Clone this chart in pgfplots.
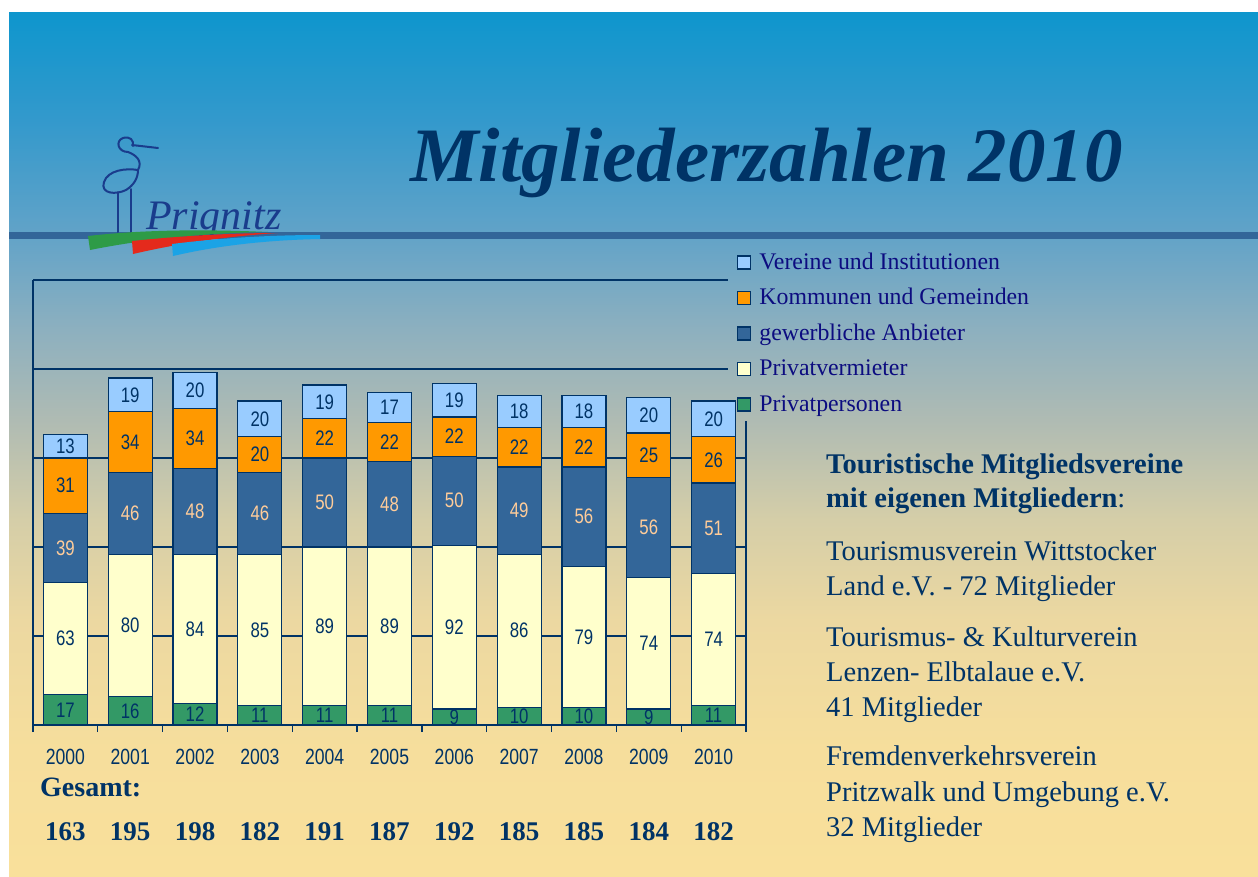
\documentclass[border=0pt]{standalone}
\usepackage{pgfplots}
\usepackage{pgfplotstable}
\pgfplotsset{compat=1.18}
\usepackage{fontspec}
\setmainfont{Liberation Serif}
\newfontfamily\narrowfont[FakeStretch=0.8]{Liberation Sans}
\definecolor{navy}{HTML}{003366}
\definecolor{legtext}{HTML}{0C0C80}
\definecolor{cgreen}{HTML}{339966}
\definecolor{cyellow}{HTML}{FFFFCC}
\definecolor{cblue}{HTML}{336699}
\definecolor{corange}{HTML}{FF9900}
\definecolor{clight}{HTML}{99CCFF}
\definecolor{peach}{HTML}{FFCC99}
\definecolor{band}{HTML}{336699}
\definecolor{storkblue}{HTML}{1A3C8C}
\definecolor{swgreen}{HTML}{2E9B47}
\definecolor{swred}{HTML}{E42A1C}
\definecolor{swblue}{HTML}{1BA3E6}
\definecolor{bga}{HTML}{F9E09B}
\definecolor{bgb}{HTML}{F6DE9C}
\definecolor{bgc}{HTML}{ECD8A1}
\definecolor{bgd}{HTML}{D5CEA8}
\definecolor{bge}{HTML}{AFBBB3}
\definecolor{bgf}{HTML}{8DB0BF}
\definecolor{bgg}{HTML}{62A3C8}
\definecolor{bgh}{HTML}{3399CC}
\definecolor{bgi}{HTML}{0E96CD}
\pgfdeclareverticalshading{bgshade}{100bp}{color(0bp)=(bga); color(25bp)=(bga); color(32.3bp)=(bgb); color(39.8bp)=(bgc); color(45.6bp)=(bgd); color(51.4bp)=(bge); color(56.6bp)=(bgf); color(62.1bp)=(bgg); color(68.75bp)=(bgh); color(75bp)=(bgi); color(100bp)=(bgi)}

\pgfplotstableread{
x pp pv ga kg vi
0 17 63 39 31 13
1 16 80 46 34 19
2 12 84 48 34 20
3 11 85 46 20 20
4 11 89 50 22 19
5 11 89 48 22 17
6 9 92 50 22 19
7 10 86 49 22 18
8 10 79 56 22 18
9 9 74 56 25 20
10 11 74 51 26 20
}\datatable

\begin{document}
\begin{tikzpicture}[x=1pt,y=1pt]
% canvas
\fill[white] (0,0) rectangle (1258,-876);
\shade[shading=bgshade] (9,-12) rectangle (1258,-876);
\fill[band] (9,-232) rectangle (1258,-239);

% logo
\begin{scope}[draw=storkblue, line width=2pt, line cap=round, line join=round]
\draw (128,-152) .. controls (118,-152) and (115,-141) .. (123,-138) .. controls (130,-136) and (134,-140) .. (133,-146);
\draw (132,-145) -- (158,-148);
\draw (128,-152) .. controls (136,-155) and (143,-161) .. (138,-170);
\draw (138,-170) .. controls (126,-168) and (108,-170) .. (104,-182) .. controls (100,-194) and (116,-195) .. (126,-190) .. controls (134,-185) and (138,-178) .. (138,-170);
\draw (118,-192) -- (118,-232);
\draw (131,-189) -- (131,-232);
\end{scope}
\node[anchor=base west, inner sep=0pt, text=storkblue, font=\fontsize{42}{42}\selectfont\itshape] at (146,-229) {Prignitz};
\fill[swgreen] (88,-236) .. controls (140,-230) and (200,-229) .. (268,-232) .. controls (200,-233) and (140,-240) .. (90,-250) -- cycle;
\fill[swred] (132,-241) .. controls (180,-236) and (230,-233) .. (278,-233) .. controls (230,-236) and (180,-243) .. (133,-254) -- cycle;
\fill[swblue] (172,-244) .. controls (220,-238) and (270,-235) .. (320,-235) -- (320,-239) .. controls (270,-240) and (220,-245) .. (173,-256) -- cycle;

% title
\node[anchor=base west, inner sep=0pt, text=navy, font=\fontsize{77}{77}\selectfont\bfseries\itshape] at (410,-181) {Mitgliederzahlen 2010};

\begin{axis}[
  at={(33pt,-725pt)}, anchor=south west,
  scale only axis, width=713pt, height=445pt,
  xmin=-0.5, xmax=10.5, ymin=0, ymax=250,
  ybar stacked, bar width=44pt,
  axis x line=bottom, axis y line=left,
  axis line style={draw=navy, line width=1.3pt, -},
  xtick={0,...,10},
  xticklabels={2000,2001,2002,2003,2004,2005,2006,2007,2008,2009,2010},
  minor xtick={-0.5,0.5,...,10.5},
  major tick length=0pt, minor tick length=7pt,
  tick align=outside,
  minor tick style={draw=navy, line width=1.3pt},
  ytick={50,100,150}, yticklabels={},
  ymajorgrids, major grid style={draw=navy, line width=1.2pt},
  xticklabel style={font=\narrowfont\fontsize{22}{22}\selectfont, text=navy, anchor=base, yshift=-39pt},
  clip=false,
  point meta=explicit,
  nodes near coords={\pgfmathprintnumber[assume math mode=true]{\pgfplotspointmeta}},
  every node near coord/.append style={font=\narrowfont\fontsize{21}{21}\selectfont, text=navy, anchor=center, inner sep=0pt},
  reverse legend,
  legend cell align=left,
  legend image code/.code={\draw[#1, draw=navy, line width=1.2pt] (0pt,-5.5pt) rectangle (13pt,7.5pt);},
  legend style={at={(0.9874,1.063)}, anchor=north west, draw=none, fill=none, inner sep=0pt,
     row sep=12.7pt, column sep=8pt,
     font=\fontsize{23.8}{23.8}\selectfont, text=legtext,
     nodes={inner sep=0pt, text height=17pt, text depth=5.8pt}},
]
\addplot[fill=cgreen, draw=navy, line width=1.2pt] table[x=x, y=pp, meta=pp] {\datatable};
\addplot[fill=cyellow, draw=navy, line width=1.2pt] table[x=x, y=pv, meta=pv] {\datatable};
\addplot[fill=cblue, draw=navy, line width=1.2pt, every node near coord/.append style={text=peach}] table[x=x, y=ga, meta=ga] {\datatable};
\addplot[fill=corange, draw=navy, line width=1.2pt] table[x=x, y=kg, meta=kg] {\datatable};
\addplot[fill=clight, draw=navy, line width=1.2pt] table[x=x, y=vi, meta=vi] {\datatable};
\legend{Privatpersonen, Privatvermieter, gewerbliche Anbieter, Kommunen und Gemeinden, Vereine und Institutionen}
\draw[navy, line width=1.3pt] (axis cs:-0.5,250) -- (axis cs:10.22,250);
\draw[navy, line width=1.2pt] (axis cs:-0.5,200) -- (axis cs:10.22,200);
\draw[navy, line width=1.3pt] (axis cs:10.5,0) -- (axis cs:10.5,171);
\end{axis}

% totals
\node[anchor=base west, inner sep=0pt, text=navy, font=\fontsize{28}{28}\selectfont\bfseries] at (40,-796) {Gesamt:};
\foreach \t [count=\i from 0] in {163,195,198,182,191,187,192,185,185,184,182}
  \node[anchor=base, inner sep=0pt, text=navy, font=\fontsize{27}{27}\selectfont\bfseries] at ({65.4+64.818*\i},-840) {\t};

% right text block
\begin{scope}[every node/.style={anchor=base west, inner sep=0pt, text=navy, font=\fontsize{28.5}{28.5}\selectfont}]
\node at (826,-473) {\bfseries Touristische Mitgliedsvereine};
\node at (826,-507) {\textbf{mit eigenen Mitgliedern}:};
\node at (826,-560) {Tourismusverein Wittstocker};
\node at (826,-595) {Land e.V. - 72 Mitglieder};
\node at (826,-646) {Tourismus- \& Kulturverein};
\node at (826,-681) {Lenzen- Elbtalaue e.V.};
\node at (826,-716) {41 Mitglieder};
\node at (826,-765) {Fremdenverkehrsverein};
\node at (826,-801) {Pritzwalk und Umgebung e.V.};
\node at (826,-836) {32 Mitglieder};
\end{scope}
\end{tikzpicture}
\end{document}
